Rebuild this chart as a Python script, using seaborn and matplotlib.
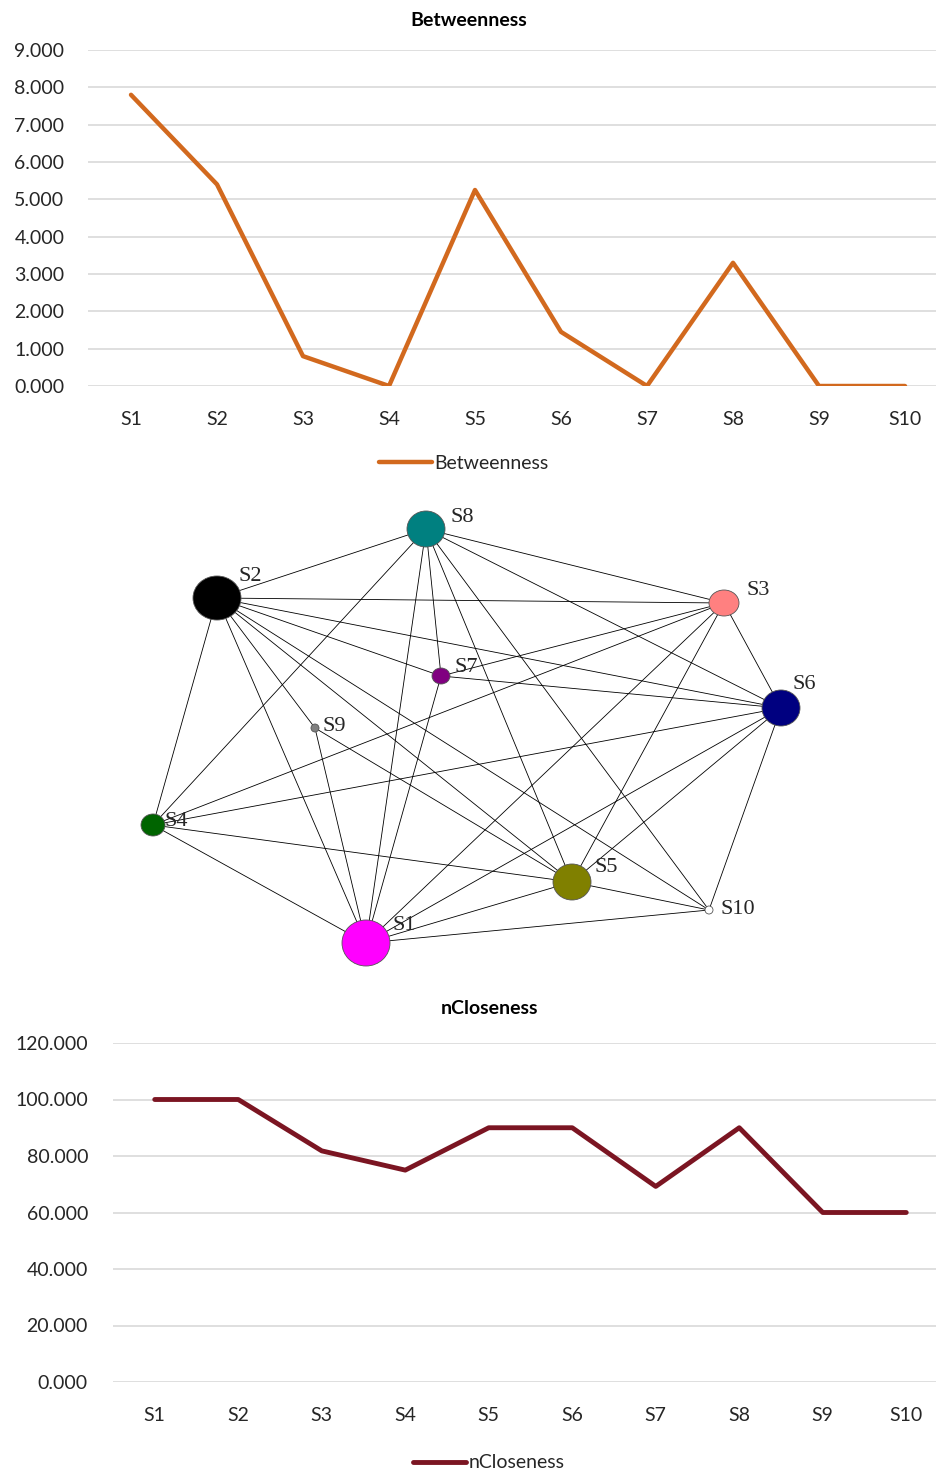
import pandas as pd
import seaborn as sns
import matplotlib.pyplot as plt
from matplotlib.patches import Ellipse

# data
stations = ['S1', 'S2', 'S3', 'S4', 'S5', 'S6', 'S7', 'S8', 'S9', 'S10']
betweenness = [7.8, 5.4, 0.8, 0.0, 5.25, 1.45, 0.0, 3.3, 0.0, 0.0]
ncloseness = [100.0, 100.0, 81.818, 75.0, 90.0, 90.0, 69.231, 90.0, 60.0, 60.0]

# network layout (pixel positions), node sizes and colours
node_x = [366, 217, 724, 153, 572, 781, 441, 426, 315, 709]
node_y = [943, 598, 603, 825, 882, 708, 676, 529, 728, 910]
node_w = [48, 48, 30, 24, 38, 38, 18, 38, 8, 8]
node_h = [46, 44, 26, 22, 36, 36, 16, 36, 8, 8]
node_colors = ['#ff00ff', '#000000', '#ff8080', '#006400', '#808000',
               '#000080', '#800080', '#008080', '#808080', '#ffffff']
edges = [
    ('S8', 'S2'), ('S8', 'S3'), ('S8', 'S6'), ('S8', 'S10'), ('S8', 'S5'),
    ('S8', 'S7'), ('S8', 'S1'), ('S8', 'S4'),
    ('S2', 'S3'), ('S2', 'S6'), ('S2', 'S7'), ('S2', 'S5'), ('S2', 'S10'),
    ('S2', 'S9'), ('S2', 'S1'), ('S2', 'S4'),
    ('S3', 'S7'), ('S3', 'S4'), ('S3', 'S1'), ('S3', 'S5'), ('S3', 'S6'),
    ('S6', 'S7'), ('S6', 'S4'), ('S6', 'S1'), ('S6', 'S5'), ('S6', 'S10'),
    ('S4', 'S5'), ('S4', 'S1'),
    ('S5', 'S9'), ('S5', 'S1'), ('S5', 'S10'),
    ('S1', 'S9'), ('S1', 'S7'), ('S1', 'S10'),
]
label_dx = [26, 22, 22, 12, 22, 12, 14, 24, 8, 12]
label_dy = [-18, -21, -12, -4, -15, -23, -8, -11, -1, -1]

sns.set_theme(style='white')
plt.rcParams['font.family'] = ['Lato', 'DejaVu Sans']

W, H = 936, 1474
fig = plt.figure(figsize=(W / 100, H / 100), dpi=100)


def px_axes(left, top, right, bottom):
    return fig.add_axes([left / W, 1 - bottom / H, (right - left) / W, (bottom - top) / H])


def line_chart(ax, values, ymax, step, color, lw, title, title_x, title_y, leg_y, leg_x, ypad):
    df = pd.DataFrame({'station': stations, 'value': values})
    sns.lineplot(data=df, x='station', y='value', ax=ax, color=color,
                 linewidth=lw, label=title, sort=False)
    ax.set_ylim(0, ymax)
    ax.set_xlim(-0.5, 9.5)
    yt = [i * step for i in range(int(ymax / step) + 1)]
    ax.set_yticks(yt)
    ax.set_yticklabels([f'{v:.3f}' for v in yt], fontsize=14, color='#262626')
    ax.tick_params(axis='x', labelsize=14, colors='#262626', pad=18, length=0)
    ax.tick_params(axis='y', pad=ypad, length=0)
    ax.grid(axis='y', color='#d9d9d9', linewidth=1.2)
    ax.set_axisbelow(True)
    for s in ax.spines.values():
        s.set_visible(False)
    ax.set_xlabel('')
    ax.set_ylabel('')
    fig.text(title_x / W, 1 - title_y / H, title,
             ha='center', va='center', fontsize=14, fontweight='bold', color='black')
    ax.legend(loc='center', bbox_to_anchor=(leg_x / W, 1 - leg_y / H),
              bbox_transform=fig.transFigure, frameon=False, fontsize=14,
              handlelength=2.7, handletextpad=0.15, labelcolor='#262626')


# top chart
ax1 = px_axes(88, 50, 948, 386)
line_chart(ax1, betweenness, 9, 1, '#d2691e', 3.2, 'Betweenness', 469, 20, 463, 464, 17)

# bottom chart
ax3 = px_axes(113, 1043, 948, 1382)
line_chart(ax3, ncloseness, 120, 20, '#7b1522', 3.5, 'nCloseness', 490, 1008, 1463, 489, 18)

# network
ax2 = px_axes(0, 490, W, 980)
ax2.set_xlim(0, W)
ax2.set_ylim(980, 490)
ax2.axis('off')
idx = {s: i for i, s in enumerate(stations)}
for a, b in edges:
    i, j = idx[a], idx[b]
    ax2.plot([node_x[i], node_x[j]], [node_y[i], node_y[j]], color='black',
             linewidth=0.6, zorder=1)
for i, s in enumerate(stations):
    ax2.add_patch(Ellipse((node_x[i], node_y[i]), node_w[i], node_h[i],
                          facecolor=node_colors[i], edgecolor='#555555',
                          linewidth=0.6, zorder=2))
    ax2.text(node_x[i] + label_dx[i], node_y[i] + label_dy[i], s,
             family=['Liberation Serif'], fontsize=16, ha='left', va='center', zorder=3)

fig.savefig('out.png', dpi=100)
